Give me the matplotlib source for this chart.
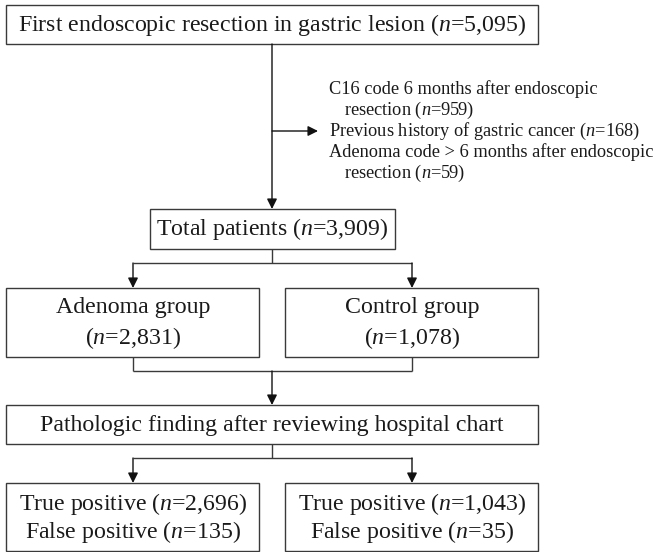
import matplotlib.pyplot as plt
from matplotlib.patches import Rectangle

plt.rcParams['font.family'] = ['Liberation Serif', 'DejaVu Serif']
plt.rcParams['mathtext.fontset'] = 'custom'
plt.rcParams['mathtext.rm'] = 'Liberation Serif'
plt.rcParams['mathtext.it'] = 'Liberation Serif:italic'

# counts shown in the flow chart
n_first = '5,095'
n_c16 = '959'
n_history = '168'
n_adenoma_code = '59'
n_total = '3,909'
group_names = ['Adenoma group', 'Control group']
group_n = ['2,831', '1,078']
true_pos = ['2,696', '1,043']
false_pos = ['135', '35']


def nlab(v):
    return '($n$=' + v + ')'


fig = plt.figure(figsize=(6.6, 5.52), dpi=100)
ax = fig.add_axes([0, 0, 1, 1])
ax.set_xlim(0, 660)
ax.set_ylim(552, 0)
ax.axis('off')

ec = '#3a3a3a'
tc = '#1a1a1a'
big = 17.2
small = 13.2


def box(x0, y0, x1, y1):
    ax.add_patch(Rectangle((x0, y0), x1 - x0, y1 - y0, fill=False,
                           ec=ec, lw=1.0))


def line(xs, ys):
    ax.plot(xs, ys, color=ec, lw=1.0, solid_capstyle='butt')


def arrow(x0, y0, x1, y1):
    ax.annotate('', xy=(x1, y1), xytext=(x0, y0),
                arrowprops=dict(arrowstyle='-|>', color='#111', lw=1.0,
                                mutation_scale=15, shrinkA=0, shrinkB=0))


def txt(x, y, s, size=big, ha='center'):
    ax.text(x, y, s, ha=ha, va='center', fontsize=size, color=tc)


cx = 272
lx, rx = 133, 412

# first box
box(6, 5, 538, 44)
txt(cx, 25, 'First endoscopic resection in gastric lesion ' + nlab(n_first))
arrow(cx, 44, cx, 209)

# exclusions
arrow(cx, 131, 318, 131)
tx = 329
txt(tx, 89, 'C16 code 6 months after endoscopic', small, 'left')
txt(tx + 15, 110, 'resection ' + nlab(n_c16), small, 'left')
txt(tx, 131, 'Previous history of gastric cancer ' + nlab(n_history), small, 'left')
txt(tx, 152, 'Adenoma code > 6 months after endoscopic', small, 'left')
txt(tx + 15, 173, 'resection ' + nlab(n_adenoma_code), small, 'left')

# total
box(150, 209, 395, 249)
txt(cx, 229, 'Total patients ' + nlab(n_total))
line([cx, cx], [249, 263])
line([lx, rx], [263, 263])
arrow(lx, 263, lx, 288)
arrow(rx, 263, rx, 288)

# groups
box(6, 288, 259, 357)
box(285, 288, 538, 357)
for x, name, n in zip([lx, rx], group_names, group_n):
    txt(x, 308, name)
    txt(x, 338, nlab(n))
line([lx, lx], [357, 371])
line([rx, rx], [357, 371])
line([lx, rx], [371, 371])
arrow(cx, 371, cx, 405)

# pathology review
box(6, 405, 538, 444)
txt(cx, 425, 'Pathologic finding after reviewing hospital chart')
line([cx, cx], [444, 458])
line([lx, rx], [458, 458])
arrow(lx, 458, lx, 483)
arrow(rx, 458, rx, 483)

box(6, 483, 259, 551)
box(285, 483, 538, 551)
for x, tp, fp in zip([lx, rx], true_pos, false_pos):
    txt(x, 504, 'True positive ' + nlab(tp))
    txt(x, 532, 'False positive ' + nlab(fp))

fig.savefig('out.png', dpi=100)
